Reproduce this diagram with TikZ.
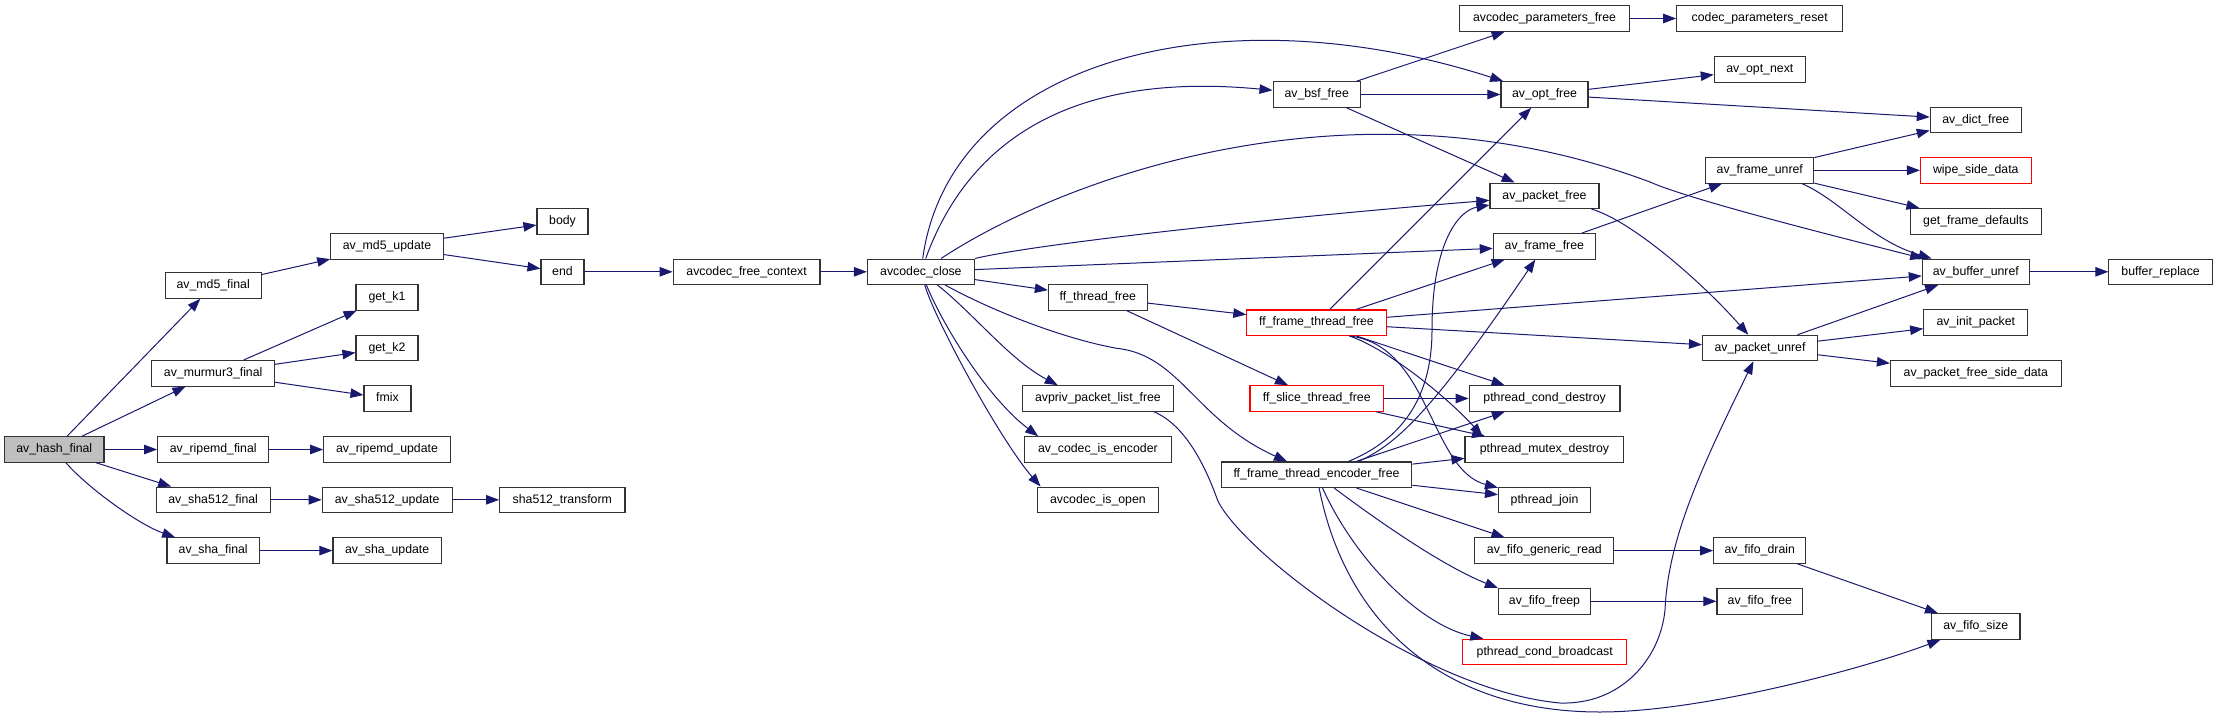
\documentclass[tikz,border=0pt]{standalone}
\usepackage{fontspec}
\setmainfont{Liberation Sans}
\usetikzlibrary{arrows.meta}
\definecolor{edgec}{HTML}{191970}
\definecolor{nodegray}{HTML}{BFBFBF}
\tikzset{
  fn/.style={draw=black!80, line width=1.1pt, fill=white, inner sep=0pt,
    minimum height=25.5pt, text height=9pt, text depth=2.6pt,
    font=\fontsize{12.3}{14}\selectfont, text=black},
  fnr/.style={fn, draw=red},
  fng/.style={fn, fill=nodegray},
  ed/.style={draw=edgec, line width=1pt, -{Triangle[length=13pt,width=9.5pt]}},
}
\begin{document}
\begin{tikzpicture}[x=1pt,y=-1pt]
\path[use as bounding box, fill=white] (0,0) rectangle (2217,720);
% column 0-1
\node[fng, minimum width=99.5pt] (hash) at (54.25,449.5) {av\_hash\_final};
\node[fn, minimum width=96pt] (md5f) at (213.2,285.5) {av\_md5\_final};
\node[fn, minimum width=122.8pt] (mur) at (213.2,373.3) {av\_murmur3\_final};
\node[fn, minimum width=111.2pt] (ripf) at (213.2,449.5) {av\_ripemd\_final};
\node[fn, minimum width=113.8pt] (s512f) at (213.2,499.8) {av\_sha512\_final};
\node[fn, minimum width=92.4pt] (shaf) at (213.2,550.6) {av\_sha\_final};
% column 2
\node[fn, minimum width=112.5pt] (md5u) at (387,246.3) {av\_md5\_update};
\node[fn, minimum width=62pt] (k1) at (387,297.3) {get\_k1};
\node[fn, minimum width=62pt] (k2) at (387,348) {get\_k2};
\node[fn, minimum width=47pt] (fmix) at (387.5,398.5) {fmix};
\node[fn, minimum width=126.7pt] (ripu) at (387,449.5) {av\_ripemd\_update};
\node[fn, minimum width=130pt] (s512u) at (387.2,499.8) {av\_sha512\_update};
\node[fn, minimum width=108.5pt] (shau) at (387.2,550.6) {av\_sha\_update};
% column 3
\node[fn, minimum width=51pt] (body) at (562.5,221.3) {body};
\node[fn, minimum width=43pt] (end) at (562.5,271.8) {end};
\node[fn, minimum width=125.4pt] (s512t) at (562.3,499.8) {sha512\_transform};
% column 4-5
\node[fn, minimum width=146.8pt] (afc) at (746.6,271.8) {avcodec\_free\_context};
\node[fn, minimum width=107pt] (acl) at (920.9,271.8) {avcodec\_close};
% column 6
\node[fn, minimum width=98.8pt] (tfree) at (1097.8,297.3) {ff\_thread\_free};
\node[fn, minimum width=151.2pt] (plf) at (1097.9,398.5) {avpriv\_packet\_list\_free};
\node[fn, minimum width=146.3pt] (isenc) at (1097.9,449.5) {av\_codec\_is\_encoder};
\node[fn, minimum width=121.6pt] (isopen) at (1097.9,499.8) {avcodec\_is\_open};
% column 7
\node[fn, minimum width=87.3pt] (bsf) at (1316.7,94.5) {av\_bsf\_free};
\node[fnr, minimum width=139.3pt] (ftf) at (1316.5,322.7) {ff\_frame\_thread\_free};
\node[fnr, minimum width=133.5pt] (stf) at (1316.7,398.5) {ff\_slice\_thread\_free};
\node[fn, minimum width=190.6pt] (fte) at (1316.5,474.7) {ff\_frame\_thread\_encoder\_free};
% column 8
\node[fn, minimum width=169.6pt] (cpf) at (1544.5,18.5) {avcodec\_parameters\_free};
\node[fn, minimum width=87pt] (optf) at (1544.5,94.5) {av\_opt\_free};
\node[fn, minimum width=109pt] (pktf) at (1544.5,195.8) {av\_packet\_free};
\node[fn, minimum width=102pt] (frf) at (1544.3,246.3) {av\_frame\_free};
\node[fn, minimum width=150.8pt] (pcd) at (1544.6,398.5) {pthread\_cond\_destroy};
\node[fn, minimum width=158.8pt] (pmd) at (1544.4,449.5) {pthread\_mutex\_destroy};
\node[fn, minimum width=92pt] (pj) at (1544.5,499.8) {pthread\_join};
\node[fn, minimum width=139pt] (fgr) at (1544.4,550.6) {av\_fifo\_generic\_read};
\node[fn, minimum width=92pt] (ffp) at (1544.5,601.3) {av\_fifo\_freep};
\node[fnr, minimum width=164pt] (pcb) at (1544.7,652) {pthread\_cond\_broadcast};
% column 9
\node[fn, minimum width=166pt] (cpr) at (1759.7,18.5) {codec\_parameters\_reset};
\node[fn, minimum width=91pt] (optn) at (1759.8,69.3) {av\_opt\_next};
\node[fn, minimum width=108pt] (fru) at (1759.8,170.3) {av\_frame\_unref};
\node[fn, minimum width=115pt] (pku) at (1760,348) {av\_packet\_unref};
\node[fn, minimum width=92pt] (fdr) at (1759.7,550.6) {av\_fifo\_drain};
\node[fn, minimum width=85.7pt] (ffr) at (1759.8,601.3) {av\_fifo\_free};
% column 10
\node[fn, minimum width=91pt] (dict) at (1975.8,119.8) {av\_dict\_free};
\node[fnr, minimum width=110.6pt] (wipe) at (1975.8,170.3) {wipe\_side\_data};
\node[fn, minimum width=131pt] (gfd) at (1975.8,221.3) {get\_frame\_defaults};
\node[fn, minimum width=107pt] (bufu) at (1975.8,271.8) {av\_buffer\_unref};
\node[fn, minimum width=104.2pt] (initp) at (1975.8,322.5) {av\_init\_packet};
\node[fn, minimum width=170.7pt] (pfsd) at (1975.8,373.3) {av\_packet\_free\_side\_data};
\node[fn, minimum width=88.3pt] (fsize) at (1975.8,626.5) {av\_fifo\_size};
% column 11
\node[fn, minimum width=103.4pt] (bufr) at (2160.6,271.8) {buffer\_replace};

% straight edges
\foreach \a/\b in {hash/md5f, hash/mur, hash/ripf, hash/s512f,
  md5f/md5u, md5u/body, md5u/end, end/afc, afc/acl,
  mur/k1, mur/k2, mur/fmix, ripf/ripu, s512f/s512u, s512u/s512t, shaf/shau,
  acl/frf, acl/tfree, tfree/ftf, tfree/stf,
  bsf/cpf, bsf/optf, bsf/pktf, cpf/cpr, optf/optn, optf/dict,
  ftf/optf, ftf/frf, ftf/bufu, ftf/pku, ftf/pcd, stf/pcd, stf/pmd,
  fte/pcd, fte/pmd, fte/pj, fte/fgr,
  fru/dict, fru/wipe, fru/gfd, bufu/bufr, pku/bufu, pku/initp, pku/pfsd,
  frf/fru, fgr/fdr, ffp/ffr, fdr/fsize}
  \draw[ed] (\a) -- (\b);

% curved edges
\draw[ed] (hash) .. controls (90,490) and (140,525) .. (shaf);
\draw[ed] (acl) .. controls (950,60) and (1220,-10) .. (optf);
\draw[ed] (acl) .. controls (965,150) and (1060,70) .. (bsf);
\draw[ed] (acl) .. controls (1060,180) and (1350,70) .. (1650,182)
   .. controls (1690,200) and (1850,240) .. (bufu);
\draw[ed] (acl) .. controls (1030,245) and (1250,220) .. (pktf);
\draw[ed] (acl) .. controls (1000,315) and (1070,340) .. (1116.7,348.3)
   .. controls (1180,355) and (1195,420) .. (fte);
\draw[ed] (acl) .. controls (975,315) and (1010,360) .. ([xshift=36pt]plf.north west);
\draw[ed] (acl) .. controls (945,330) and (990,400) .. ([xshift=14pt]isenc.north west);
\draw[ed] (acl) .. controls (935,320) and (1000,440) .. ([xshift=4pt]isopen.north west);
\draw[ed] ([xshift=-20pt]plf.south east) .. controls (1185,425) and (1205,465) .. (1217.5,500)
   .. controls (1240,550) and (1420,690) .. (1560,703)
   .. controls (1620,705) and (1660,660) .. (1665,610)
   .. controls (1668,540) and (1700,470) .. (pku);
\draw[ed] (fte) .. controls (1345,620) and (1440,712) .. (1600,712)
   .. controls (1700,712) and (1860,670) .. (fsize);
\draw[ed] ([xshift=32pt]fte.north) .. controls (1400,440) and (1432,400) .. (1432,330)
   .. controls (1432,240) and (1460,210) .. (pktf);
\draw[ed] ([xshift=42pt]fte.north) .. controls (1395,445) and (1430,415) .. (frf);
\draw[ed] (fte) .. controls (1370,515) and (1440,565) .. (ffp.north west);
\draw[ed] (fte) .. controls (1355,560) and (1420,625) .. (pcb);
\draw[ed] ([xshift=33pt]ftf.south) .. controls (1390,350) and (1450,400) .. ([xshift=18pt]pmd.north west);
\draw[ed] ([xshift=33pt]ftf.south) .. controls (1430,345) and (1430,470) .. (pj);
\draw[ed] ([xshift=42pt]fru.south) .. controls (1840,200) and (1870,240) .. (bufu);
\draw[ed] (pktf) .. controls (1630,220) and (1700,280) .. (pku);
\end{tikzpicture}
\end{document}
